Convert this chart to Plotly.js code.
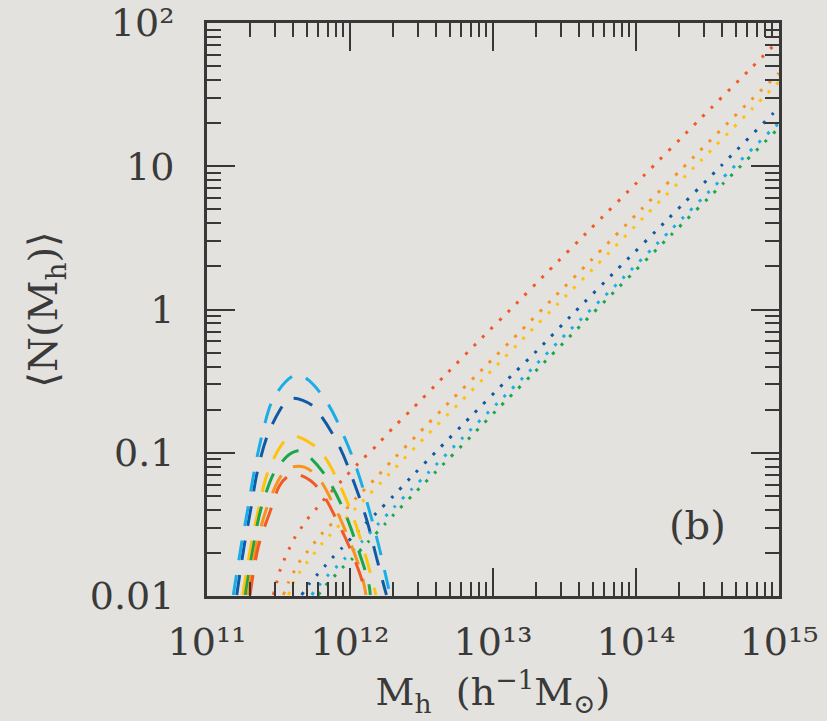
<!DOCTYPE html>
<html>
<head>
<meta charset="utf-8">
<script src="https://cdn.plot.ly/plotly-3.0.1.min.js"></script>
<style>
  html, body { margin: 0; padding: 0; background: #e4e2de; }
  #chart { width: 827px; height: 721px; }
</style>
</head>
<body>
<div id="chart"></div>
<script>
// Mean halo occupation <N(M_h)> for six galaxy samples.
// Dashed: central-galaxy term, dotted: satellite term.
// Values are given as log10(M_h) and log10(<N>).

const sampleColors = ['#0f5aa6', '#1aaee9', '#ffc20e', '#1aa64b', '#f7931e', '#f15a24'];

// central terms
const cenLogM_darkBlue = [11.208, 11.259, 11.305, 11.352, 11.424, 11.510, 11.557, 11.608, 11.732, 11.802, 11.925, 12.030, 12.117, 12.184, 12.245, 12.255];
const cenLogN_darkBlue = [-1.993, -1.656, -1.400, -1.132, -0.876, -0.702, -0.637, -0.620, -0.667, -0.748, -0.955, -1.213, -1.469, -1.726, -1.958, -1.993];

const cenLogM_lightBlue = [11.184, 11.238, 11.284, 11.330, 11.385, 11.465, 11.592, 11.650, 11.715, 11.841, 11.959, 12.054, 12.131, 12.200, 12.261, 12.280];
const cenLogN_lightBlue = [-1.993, -1.656, -1.400, -1.132, -0.876, -0.620, -0.469, -0.457, -0.497, -0.651, -0.887, -1.132, -1.388, -1.644, -1.907, -1.993];

const cenLogM_yellow = [11.250, 11.306, 11.359, 11.422, 11.510, 11.557, 11.608, 11.732, 11.813, 11.918, 12.021, 12.105, 12.170, 12.180];
const cenLogN_yellow = [-1.993, -1.656, -1.400, -1.144, -0.962, -0.906, -0.883, -0.939, -1.016, -1.202, -1.446, -1.707, -1.946, -1.993];

const cenLogM_green = [11.268, 11.324, 11.375, 11.468, 11.506, 11.580, 11.645, 11.709, 11.834, 11.958, 12.051, 12.131, 12.142];
const cenLogN_green = [-1.993, -1.656, -1.400, -1.140, -1.086, -1.009, -0.986, -1.023, -1.167, -1.405, -1.656, -1.912, -1.993];

const cenLogM_orange = [11.287, 11.343, 11.413, 11.483, 11.522, 11.564, 11.685, 11.785, 11.886, 11.993, 12.082, 12.112];
const cenLogN_orange = [-1.993, -1.656, -1.400, -1.225, -1.155, -1.109, -1.102, -1.185, -1.365, -1.604, -1.853, -1.993];

const cenLogM_red = [11.301, 11.359, 11.441, 11.506, 11.557, 11.608, 11.725, 11.822, 11.909, 12.005, 12.091, 12.100];
const cenLogN_red = [-1.993, -1.656, -1.411, -1.232, -1.171, -1.148, -1.195, -1.310, -1.474, -1.679, -1.918, -1.993];

// satellite terms
const satLogM_darkBlue = [11.662, 11.713, 11.769, 11.825, 11.883, 11.942, 12.058, 12.182, 12.303, 12.420, 12.601, 12.839, 13.079, 13.324, 13.562, 13.865, 14.229, 14.599, 14.960, 15.0];
const satLogN_darkBlue = [-1.993, -1.916, -1.853, -1.791, -1.726, -1.667, -1.544, -1.423, -1.302, -1.178, -0.993, -0.753, -0.511, -0.271, -0.027, 0.276, 0.637, 1.007, 1.370, 1.41];

const satLogM_lightBlue = [11.732, 11.785, 11.841, 11.902, 11.965, 12.082, 12.191, 12.308, 12.431, 12.548, 12.788, 13.030, 13.271, 13.510, 13.872, 14.238, 14.599, 14.972, 15.0];
const satLogN_lightBlue = [-1.993, -1.923, -1.860, -1.800, -1.737, -1.621, -1.504, -1.381, -1.255, -1.139, -0.895, -0.655, -0.415, -0.171, 0.183, 0.550, 0.911, 1.276, 1.30];

const satLogM_yellow = [11.569, 11.604, 11.646, 11.697, 11.750, 11.806, 12.040, 12.280, 12.517, 12.755, 12.998, 13.236, 13.480, 13.720, 14.082, 14.448, 14.809, 15.0];
const satLogN_yellow = [-1.993, -1.907, -1.837, -1.768, -1.702, -1.632, -1.388, -1.143, -0.899, -0.662, -0.418, -0.178, 0.066, 0.304, 0.672, 1.034, 1.398, 1.59];

const satLogM_green = [11.778, 11.832, 11.888, 11.949, 12.012, 12.128, 12.245, 12.303, 12.485, 12.601, 12.844, 13.084, 13.329, 13.566, 13.883, 14.245, 14.611, 14.977, 15.0];
const satLogN_green = [-1.993, -1.923, -1.865, -1.800, -1.744, -1.621, -1.497, -1.435, -1.248, -1.132, -0.888, -0.643, -0.399, -0.159, 0.159, 0.520, 0.881, 1.246, 1.27];

const satLogM_orange = [11.534, 11.569, 11.608, 11.650, 11.701, 11.755, 11.809, 11.935, 12.047, 12.168, 12.284, 12.462, 12.704, 12.960, 13.201, 13.441, 13.683, 14.044, 14.406, 14.769, 15.0];
const satLogN_orange = [-1.993, -1.907, -1.830, -1.756, -1.691, -1.623, -1.558, -1.435, -1.311, -1.190, -1.065, -0.883, -0.637, -0.383, -0.143, 0.099, 0.341, 0.706, 1.067, 1.428, 1.65];

const satLogM_red = [11.464, 11.487, 11.510, 11.541, 11.576, 11.615, 11.662, 11.713, 11.767, 11.825, 11.942, 12.058, 12.182, 12.298, 12.420, 12.660, 12.900, 13.142, 13.383, 13.683, 14.047, 14.436, 14.799, 15.0];
const satLogN_red = [-1.993, -1.907, -1.823, -1.744, -1.667, -1.590, -1.520, -1.449, -1.388, -1.318, -1.195, -1.074, -0.953, -0.829, -0.709, -0.464, -0.220, 0.020, 0.264, 0.564, 0.927, 1.318, 1.679, 1.88];

// axis ticks
const xTickExponents = [11, 12, 13, 14, 15];
const xTickLabels = ['10\u00B9\u00B9', '10\u00B9\u00B2', '10\u00B9\u00B3', '10\u00B9\u2074', '10\u00B9\u2075'];
const yTickValues = [0.01, 0.1, 1, 10, 100];
const yTickLabels = ['0.01', '0.1', '1', '10', '10\u00B2'];

const centrals = [
  [cenLogM_darkBlue, cenLogN_darkBlue],
  [cenLogM_lightBlue, cenLogN_lightBlue],
  [cenLogM_yellow, cenLogN_yellow],
  [cenLogM_green, cenLogN_green],
  [cenLogM_orange, cenLogN_orange],
  [cenLogM_red, cenLogN_red]
];
const satellites = [
  [satLogM_darkBlue, satLogN_darkBlue],
  [satLogM_lightBlue, satLogN_lightBlue],
  [satLogM_yellow, satLogN_yellow],
  [satLogM_green, satLogN_green],
  [satLogM_orange, satLogN_orange],
  [satLogM_red, satLogN_red]
];

const pow10 = v => Math.pow(10, v);
const traces = [];
satellites.forEach(([lm, ln], i) => {
  traces.push({
    x: lm.map(pow10), y: ln.map(pow10), mode: 'lines', type: 'scatter',
    line: { color: sampleColors[i], width: 3, dash: '3px,9px', shape: 'spline', smoothing: 0.6 },
    hoverinfo: 'skip', showlegend: false
  });
});
centrals.forEach(([lm, ln], i) => {
  traces.push({
    x: lm.map(pow10), y: ln.map(pow10), mode: 'lines', type: 'scatter',
    line: { color: sampleColors[i], width: 3, dash: '20px,15px', shape: 'spline', smoothing: 1 },
    hoverinfo: 'skip', showlegend: false
  });
});

// minor ticks at 2..9 in every decade
const minorTicks = lo => {
  const v = [];
  for (let d = lo; d < lo + 4; d++) for (let k = 2; k <= 9; k++) v.push(k * Math.pow(10, d));
  return v;
};

const ink = '#383838';
const tickFont = { family: 'DejaVu Serif, serif', size: 38, color: '#3a3a3a' };

const axisCommon = {
  type: 'log', showgrid: false, zeroline: false,
  showline: true, linecolor: ink, linewidth: 3, mirror: 'ticks',
  ticks: 'inside', ticklen: 28, tickwidth: 2, tickcolor: ink,
  tickmode: 'array', tickfont: tickFont, ticklabeloverflow: 'allow'
};

const layout = {
  width: 827, height: 721,
  margin: { l: 207, r: 48, t: 23, b: 125 },
  paper_bgcolor: '#e4e2de', plot_bgcolor: '#e4e2de',
  xaxis: Object.assign({}, axisCommon, {
    range: [11, 15],
    tickvals: xTickExponents.map(pow10),
    ticktext: xTickLabels,
    ticklabelstandoff: 10,
    minor: { tickmode: 'array', tickvals: minorTicks(11), ticks: 'inside', ticklen: 14, tickwidth: 2, tickcolor: ink, showgrid: false },
    title: { text: 'M<sub>h</sub>  (h<sup>\u22121</sup>M<sub>\u2299</sub>)', font: { family: 'DejaVu Serif, serif', size: 38, color: '#3a3a3a' }, standoff: 12 }
  }),
  yaxis: Object.assign({}, axisCommon, {
    range: [-2, 2],
    tickvals: yTickValues,
    ticktext: yTickLabels,
    ticklabelstandoff: 22,
    minor: { tickmode: 'array', tickvals: minorTicks(-2), ticks: 'inside', ticklen: 14, tickwidth: 2, tickcolor: ink, showgrid: false },
    title: { text: '\u27E8N(M<sub>h</sub>)\u27E9', font: { family: 'DejaVu Serif, serif', size: 40, color: '#3a3a3a' }, standoff: 20 }
  }),
  annotations: [{
    text: '(b)', xref: 'paper', yref: 'paper', x: 0.857, y: 0.124,
    xanchor: 'center', yanchor: 'middle', showarrow: false,
    font: { family: 'DejaVu Serif, serif', size: 40, color: '#3a3a3a' }
  }]
};

Plotly.newPlot('chart', traces, layout, { staticPlot: true, displayModeBar: false });
</script>
</body>
</html>
